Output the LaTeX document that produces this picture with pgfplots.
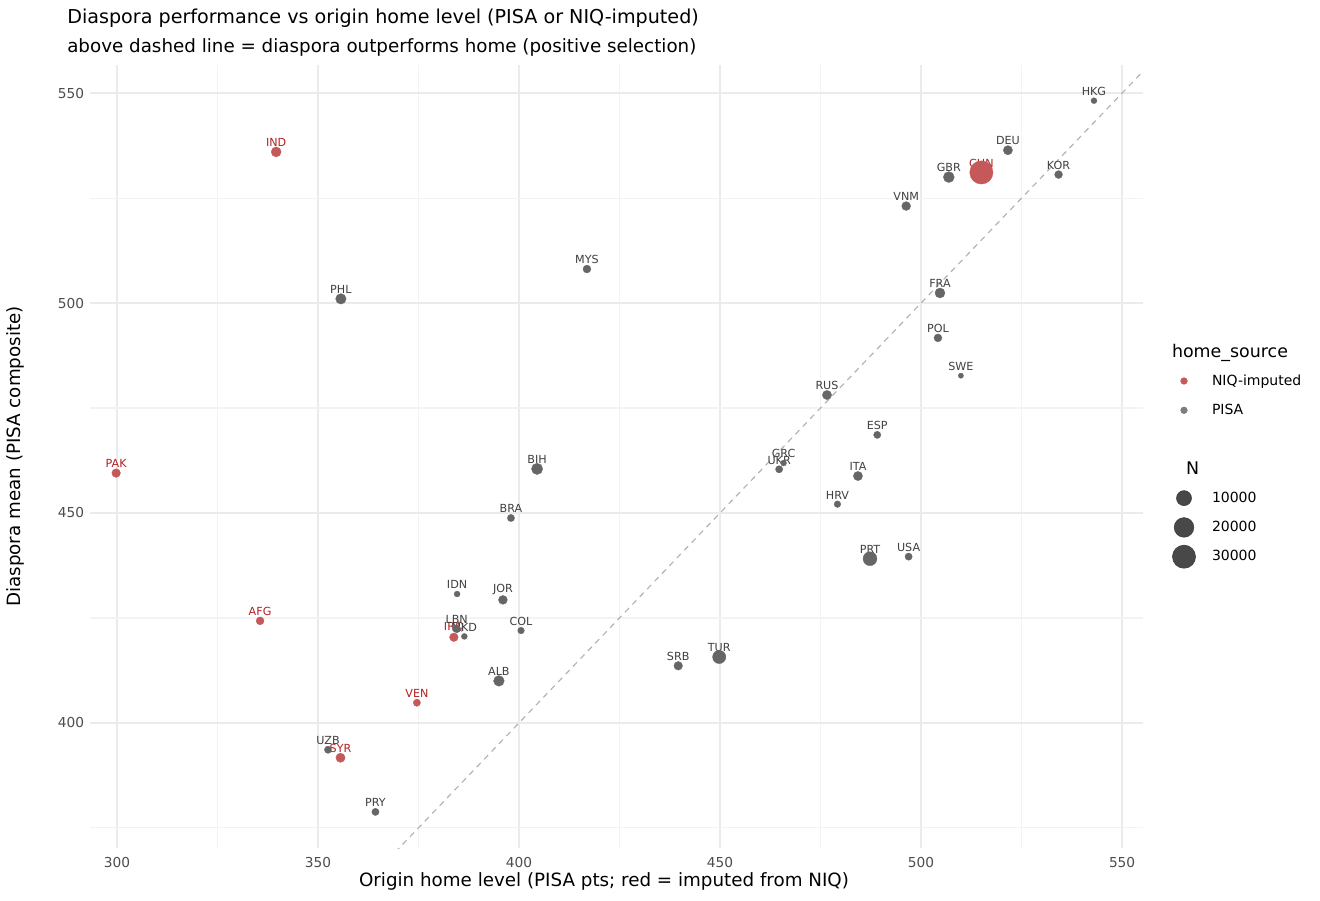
\documentclass[border=0pt]{standalone}
\usepackage{fontspec}
\setmainfont{DejaVu Sans}
\usepackage{pgfplots}
\pgfplotsset{compat=1.18}
\usepackage{pgfplotstable}

\definecolor{redpt}{RGB}{197,89,89}
\definecolor{redtxt}{RGB}{178,34,34}
\definecolor{graypt}{RGB}{102,102,102}
\definecolor{graytxt}{RGB}{64,64,64}
\definecolor{legpt}{RGB}{72,72,72}
\definecolor{majgrid}{RGB}{235,235,235}
\definecolor{mingrid}{RGB}{243,243,243}
\definecolor{tickc}{RGB}{77,77,77}
\definecolor{diag}{RGB}{178,178,178}

\pgfplotsset{circleg/.style={legend image code/.code={\path[draw=none, fill=none] (-8.3pt,-1pt) rectangle (8.3pt,1pt); \draw[##1] plot coordinates {(0pt,0pt)};}}}

% NIQ-imputed home level
\pgfplotstableread{
x y N lab
339.6 536.0 3000 IND
299.8 459.5 1800 PAK
335.6 424.3 1300 AFG
383.8 420.4 1800 IRQ
374.6 404.8 900 VEN
355.6 391.7 2300 SYR
515.0 531.1 30700 CHN
}\niqdata

% PISA home level
\pgfplotstableread{
x y N lab
355.7 501.0 3500 PHL
416.9 508.1 1300 MYS
404.5 460.5 4400 BIH
398.0 448.8 900 BRA
384.6 430.7 330 IDN
396.0 429.3 2000 JOR
384.5 422.4 1300 LBN
386.4 420.6 330 MKD
400.5 422.0 600 COL
395.0 410.0 3700 ALB
352.5 393.6 900 UZB
364.3 378.8 900 PRY
439.6 413.6 1800 SRB
449.8 415.7 7100 TUR
465.8 461.9 330 GRC
464.7 460.4 900 UKR
484.3 458.8 2300 ITA
479.2 452.1 600 HRV
489.1 468.6 900 ESP
476.6 478.1 2300 RUS
487.3 439.1 8200 PRT
496.9 439.6 900 USA
509.9 482.7 140 SWE
504.2 491.7 1300 POL
504.7 502.4 3000 FRA
496.3 523.1 2000 VNM
506.9 530.0 4000 GBR
521.6 536.4 2300 DEU
534.2 530.6 1300 KOR
543.0 548.2 330 HKG
}\pisadata

\begin{document}
\begin{tikzpicture}
\fill[white] (-63pt,-36.4pt) rectangle (861pt,593.6pt);
\begin{axis}[
  scale only axis, width=737.1pt, height=548.1pt,
  xmin=293.3, xmax=555.2, ymin=370.2, ymax=556.7,
  xtick={300,350,...,550}, ytick={400,450,500,550},
  minor xtick={325,375,...,525}, minor ytick={375,425,475,525},
  grid=both,
  major grid style={majgrid, line width=1.2pt},
  minor grid style={mingrid, line width=0.8pt},
  axis line style={draw=none},
  major tick length=0pt, minor tick length=0pt,
  tick label style={font=\fontsize{9.6}{11}\selectfont, text=tickc},
  xticklabel style={yshift=-3.0pt},
  yticklabel style={xshift=-0.6pt},
  /pgf/number format/assume math mode=true,
  legend cell align=left,
  legend style={at={(1.02768,0.65253)}, anchor=north west, draw=none, fill=none,
    inner sep=0pt, outer sep=0pt, row sep=0pt, column sep=11.3pt,
    font=\fontsize{9.8}{11}\selectfont,
    nodes={inner sep=0pt, minimum height=20.5pt}},
]
\addlegendimage{empty legend}
\addlegendentry{\hspace*{-28pt}\fontsize{12.2}{14}\selectfont home\_source}
\addlegendimage{circleg, mark=*, mark size=2.3pt, draw=redpt, fill=redpt}
\addlegendentry{NIQ-imputed}
\addlegendimage{circleg, mark=*, mark size=2.3pt, draw=graypt!85!white, fill=graypt!85!white}
\addlegendentry{PISA}
\addlegendimage{empty legend}
\addlegendentry{}
\addlegendimage{empty legend}
\addlegendentry{\hspace*{-28pt}\fontsize{12.2}{14}\selectfont N}
\addlegendimage{circleg, mark=*, mark size=5.25pt, draw=legpt!80!black, fill=legpt, line width=0.4pt}
\addlegendentry{10000}
\addlegendimage{circleg, mark=*, mark size=6.85pt, draw=legpt!80!black, fill=legpt, line width=0.4pt}
\addlegendentry{20000}
\addlegendimage{circleg, mark=*, mark size=8.07pt, draw=legpt!80!black, fill=legpt, line width=0.4pt}
\addlegendentry{30000}

% reference line y = x
\addplot[forget plot, diag, line width=0.8pt, dash pattern=on 4pt off 3.5pt] coordinates {(360,360) (570,570)};

% labels
\addplot[forget plot, only marks, mark=none, point meta=explicit symbolic, nodes near coords,
  every node near coord/.append style={font=\fontsize{7.8}{9}\selectfont, text=redtxt, inner sep=0pt, yshift=3.4pt}]
  table[x=x, y=y, meta=lab] {\niqdata};
\addplot[forget plot, only marks, mark=none, point meta=explicit symbolic, nodes near coords,
  every node near coord/.append style={font=\fontsize{7.8}{9}\selectfont, text=graytxt, inner sep=0pt, yshift=3.4pt}]
  table[x=x, y=y, meta=lab] {\pisadata};

% points
\addplot[forget plot, scatter, only marks, mark=*,
  scatter/use mapped color={draw=redpt, fill=redpt},
  mark options={line width=0.2pt},
  visualization depends on={1.4*(1+5*sqrt(\thisrow{N}/33000)) \as \msize},
  scatter/@pre marker code/.append style={/tikz/mark size=\msize pt}]
  table[x=x, y=y] {\niqdata};
\addplot[forget plot, scatter, only marks, mark=*,
  scatter/use mapped color={draw=graypt, fill=graypt},
  mark options={line width=0.2pt},
  visualization depends on={1.4*(1+5*sqrt(\thisrow{N}/33000)) \as \msize},
  scatter/@pre marker code/.append style={/tikz/mark size=\msize pt}]
  table[x=x, y=y] {\pisadata};
\end{axis}
\node[anchor=base west, inner sep=0pt, font=\fontsize{13.4}{16}\selectfont] at (-16.1pt,576.8pt) {Diaspora performance vs origin home level (PISA or NIQ-imputed)};
\node[anchor=base west, inner sep=0pt, font=\fontsize{12.8}{15}\selectfont] at (-16.1pt,557.0pt) {above dashed line = diaspora outperforms home (positive selection)};
\node[anchor=base, inner sep=0pt, font=\fontsize{12.8}{15}\selectfont] at (359.8pt,-26.6pt) {Origin home level (PISA pts; red = imputed from NIQ)};
\node[anchor=base, inner sep=0pt, rotate=90, font=\fontsize{12.8}{15}\selectfont] at (-48.3pt,274.05pt) {Diaspora mean (PISA composite)};
\path[use as bounding box] (-63pt,-36.4pt) rectangle (861pt,593.6pt);
\end{tikzpicture}
\end{document}
